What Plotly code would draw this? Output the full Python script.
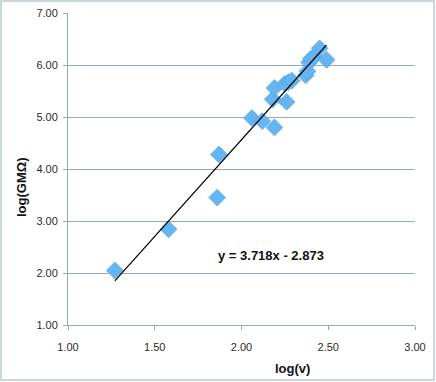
import plotly.graph_objects as go

log_v = [1.27, 1.58, 1.86, 1.87, 2.06, 2.12, 2.19, 2.18, 2.19, 2.26, 2.25, 2.27, 2.29,
         2.37, 2.38, 2.39, 2.40, 2.42, 2.45, 2.49]
log_gmo = [2.05, 2.84, 3.45, 4.28, 4.98, 4.92, 4.80, 5.34, 5.56, 5.29, 5.64, 5.67, 5.70,
           5.80, 5.88, 6.05, 6.12, 6.16, 6.32, 6.10]
slope = 3.718
intercept = -2.873
x_ticks = [1.0, 1.5, 2.0, 2.5, 3.0]
y_ticks = [1, 2, 3, 4, 5, 6, 7]

grid = "#93AAB3"
font = "Liberation Sans, Arial, sans-serif"

fig = go.Figure()
fig.add_trace(go.Scatter(
    x=log_v, y=log_gmo, mode="markers",
    marker=dict(symbol="diamond", size=13, color="#66B5F3",
                line=dict(color="#4C9EE3", width=0.6)),
    showlegend=False, hoverinfo="skip"))

xs = [min(log_v), max(log_v)]
fig.add_trace(go.Scatter(
    x=xs, y=[slope * v + intercept for v in xs], mode="lines",
    line=dict(color="black", width=1.2), showlegend=False, hoverinfo="skip"))

fig.update_layout(
    width=436, height=382,
    margin=dict(l=68, r=21, t=13, b=57, autoexpand=False),
    paper_bgcolor="white", plot_bgcolor="white",
    font=dict(family=font, size=11, color="#2a2a2a"),
    xaxis=dict(range=[1, 3], tickvals=x_ticks, ticktext=[f"{v:.2f}" for v in x_ticks],
               showgrid=False, zeroline=False, showline=True, linecolor=grid, linewidth=1,
               ticks="outside", ticklen=4, tickcolor=grid, fixedrange=True, automargin=False,
               ticklabelstandoff=8),
    yaxis=dict(range=[1, 7], tickvals=y_ticks, ticktext=[f"{v:.2f}" for v in y_ticks],
               showgrid=True, gridcolor=grid, gridwidth=1, zeroline=False,
               showline=True, linecolor=grid, linewidth=1,
               ticks="outside", ticklen=4, tickcolor=grid, fixedrange=True, automargin=False,
               ticklabelstandoff=3),
    shapes=[dict(type="rect", xref="paper", yref="paper",
                 x0=-0.193, x1=1.0548, y0=-0.176, y1=1.0385,
                 line=dict(color="#B9C9CD", width=1.5))],
    annotations=[
        dict(text="<b>y = 3.718x - 2.873</b>", x=2.17, y=2.33, xref="x", yref="y",
             showarrow=False, xanchor="center", yanchor="middle",
             font=dict(family=font, size=13, color="#111")),
        dict(text="<b>log(v)</b>", x=(292 - 68) / 347, y=(325 - 368) / 312,
             xref="paper", yref="paper", showarrow=False, xanchor="center", yanchor="middle",
             font=dict(family=font, size=13, color="#111")),
        dict(text="<b>log(GMΩ)</b>", x=(21 - 68) / 347, y=(325 - 187) / 312,
             xref="paper", yref="paper", showarrow=False, textangle=-90,
             xanchor="center", yanchor="middle",
             font=dict(family=font, size=13, color="#111")),
    ],
)

fig.write_html("out.html", config={"displayModeBar": False},
               post_script="document.body.style.margin='0';")
